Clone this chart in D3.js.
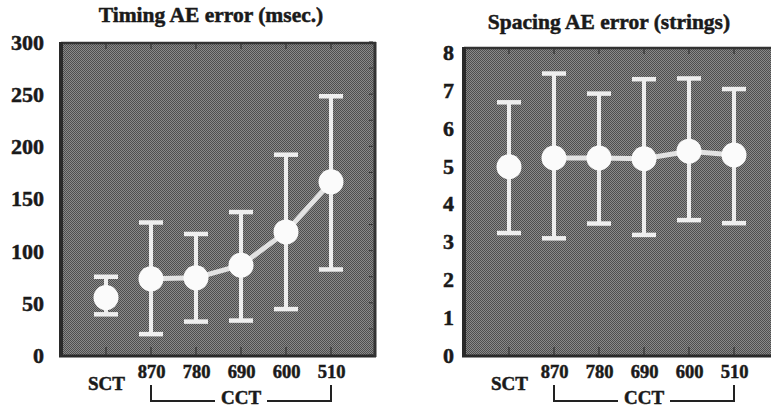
<!DOCTYPE html>
<html>
<head>
<meta charset="utf-8">
<script src="https://cdn.jsdelivr.net/npm/d3@7"></script>
<style>
    body { margin: 0; background: #fff; }
    svg text { font-family: "Liberation Serif", "Times New Roman", serif; font-weight: bold; fill: #1a1a1a; stroke: #1a1a1a; stroke-width: 0.5px; }
</style>
</head>
<body>
<svg id="chart"></svg>
<script>
// categories along the x axis (SCT, then CCT tempos)
const categories = ['SCT', '870', '780', '690', '600', '510'];

// Timing AE error (msec.)
const timingMean = [55, 73, 74, 86, 118, 166];
const timingLow = [39, 20, 32, 33, 44, 82];
const timingHigh = [75, 127, 116, 137, 192, 248];
const timingTicks = [0, 50, 100, 150, 200, 250, 300];

// Spacing AE error (strings)
const spacingMean = [4.97, 5.2, 5.2, 5.18, 5.38, 5.28];
const spacingLow = [3.22, 3.08, 3.47, 3.17, 3.56, 3.48];
const spacingHigh = [6.67, 7.43, 6.9, 7.28, 7.3, 7.02];
const spacingTicks = [0, 1, 2, 3, 4, 5, 6, 7, 8];

const serif = '"Liberation Serif", "Times New Roman", serif';
const svg = d3.select('#chart').attr('width', 771).attr('height', 407);

// checkerboard halftone like the printed figure
const defs = svg.append('defs');
const pat = defs.append('pattern').attr('id', 'halftone')
    .attr('width', 2).attr('height', 2).attr('patternUnits', 'userSpaceOnUse');
pat.append('rect').attr('width', 2).attr('height', 2).attr('fill', '#8a8a8a');
pat.append('rect').attr('width', 1).attr('height', 1).attr('fill', '#4e4e4e');
pat.append('rect').attr('x', 1).attr('y', 1).attr('width', 1).attr('height', 1).attr('fill', '#4e4e4e');

class ErrorBarChart {
    constructor(config, mean, low, high, ticks) {
        this.config = config;
        this.mean = mean;
        this.low = low;
        this.high = high;
        this.ticks = ticks;
        this.render();
    }
    render() {
        const c = this.config;
        const g = svg.append('g');
        const xScale = d3.scaleLinear().domain([0, 7]).range([c.left, c.left + 315]);
        const yScale = d3.scaleLinear().domain([0, c.yMax]).range([c.bottom, c.top]);
        const xPos = (d, i) => xScale(i + 1);
        const barColor = '#eeeeee';

        // plot frame
        const right = Math.min(c.left + 315, 771);
        g.append('rect')
            .attr('x', c.left).attr('y', yScale(c.yMax))
            .attr('width', right - c.left).attr('height', c.bottom - yScale(c.yMax))
            .attr('fill', 'url(#halftone)');
        g.append('line').attr('x1', c.left).attr('x2', right).attr('y1', c.top + 1).attr('y2', c.top + 1)
            .attr('stroke', '#333').attr('stroke-width', 2.5);
        g.append('line').attr('x1', c.left - 2).attr('x2', right).attr('y1', c.bottom + 1).attr('y2', c.bottom + 1)
            .attr('stroke', '#2a2a2a').attr('stroke-width', 3);
        g.append('line').attr('x1', c.left).attr('x2', c.left).attr('y1', c.top).attr('y2', c.bottom + 2)
            .attr('stroke', '#2a2a2a').attr('stroke-width', 4);
        if (c.left + 315 <= 771) {
            g.append('line').attr('x1', c.left + 314).attr('x2', c.left + 314).attr('y1', c.top).attr('y2', c.bottom + 2)
                .attr('stroke', '#333').attr('stroke-width', 3);
            // minor ticks on the right side
            g.selectAll('.rtick').data(d3.range(0, c.yMax + 1e-9, c.minor)).enter().append('line')
                .attr('x1', c.left + 312).attr('x2', c.left + 308)
                .attr('y1', d => yScale(d)).attr('y2', d => yScale(d))
                .attr('stroke', '#333').attr('stroke-width', 1);
        }
        // top and bottom ticks at each category
        g.selectAll('.ttick').data(categories).enter().append('line')
            .attr('x1', xPos).attr('x2', xPos)
            .attr('y1', c.top + 2).attr('y2', c.top + 7)
            .attr('stroke', '#333').attr('stroke-width', 1.2);
        g.selectAll('.btick').data(categories).enter().append('line')
            .attr('x1', xPos).attr('x2', xPos)
            .attr('y1', c.bottom).attr('y2', c.bottom - 8)
            .attr('stroke', '#333').attr('stroke-width', 1.2);

        // y axis labels
        const yAxis = d3.axisLeft(yScale).tickValues(this.ticks).tickSize(0).tickPadding(0);
        const yAxisG = g.append('g').attr('transform', `translate(${c.labelRight},0)`).call(yAxis)
            .attr('font-family', serif).attr('font-size', null);
        yAxisG.select('.domain').remove();
        yAxisG.selectAll('text').style('font-family', serif).style('font-size', '22px').attr('dy', '0.34em');

        // x axis labels (SCT sits lower than the CCT tempos)
        const xAxis = d3.axisBottom(xScale).tickValues(d3.range(1, 7))
            .tickFormat(d => categories[d - 1]).tickSize(0).tickPadding(0);
        const xAxisG = g.append('g').attr('transform', `translate(0,${c.bottom})`).call(xAxis)
            .attr('font-family', serif).attr('font-size', null);
        xAxisG.select('.domain').remove();
        xAxisG.selectAll('text').attr('dy', 0).style('font-family', serif)
            .attr('y', d => d === 1 ? 35 : 23)
            .style('font-size', d => d === 1 ? '19px' : '18.5px');

        // CCT bracket
        const bx1 = xScale(2), bx2 = xScale(6), bmid = (bx1 + bx2) / 2;
        g.append('path')
            .attr('d', `M${bx1},${c.bottom + 30}V${c.bottom + 46}H${bmid - 26}M${bmid + 26},${c.bottom + 46}H${bx2}V${c.bottom + 30}`)
            .attr('fill', 'none').attr('stroke', '#222').attr('stroke-width', 2);
        g.append('text').attr('x', bmid).attr('y', c.bottom + 49)
            .attr('text-anchor', 'middle').style('font-size', '19px').text('CCT');

        // title
        g.append('text').attr('x', c.titleX).attr('y', c.titleY)
            .attr('text-anchor', 'middle').style('font-size', '21.5px').text(c.title);

        // connecting line over the CCT conditions
        const line = d3.line().x(d => xScale(d.i + 1)).y(d => yScale(d.v));
        const pts = this.mean.map((v, i) => ({ v, i })).slice(1);
        g.append('path').attr('d', line(pts))
            .attr('fill', 'none').attr('stroke', '#e2e2e2').attr('stroke-width', 5);

        // error bars
        const bars = g.selectAll('.err').data(this.mean).enter().append('g');
        bars.append('line')
            .attr('x1', xPos).attr('x2', xPos)
            .attr('y1', (d, i) => yScale(this.low[i])).attr('y2', (d, i) => yScale(this.high[i]))
            .attr('stroke', barColor).attr('stroke-width', 4);
        bars.append('line')
            .attr('x1', (d, i) => xPos(d, i) - 12).attr('x2', (d, i) => xPos(d, i) + 12)
            .attr('y1', (d, i) => yScale(this.high[i])).attr('y2', (d, i) => yScale(this.high[i]))
            .attr('stroke', barColor).attr('stroke-width', 4.5);
        bars.append('line')
            .attr('x1', (d, i) => xPos(d, i) - 12).attr('x2', (d, i) => xPos(d, i) + 12)
            .attr('y1', (d, i) => yScale(this.low[i])).attr('y2', (d, i) => yScale(this.low[i]))
            .attr('stroke', barColor).attr('stroke-width', 4.5);

        // means
        g.selectAll('.dot').data(this.mean).enter().append('circle')
            .attr('cx', xPos).attr('cy', d => yScale(d)).attr('r', 12.5)
            .attr('fill', '#fbfbfb');
    }
}

new ErrorBarChart({
    left: 61, top: 42, bottom: 355, yMax: 300, minor: 25, labelRight: 44,
    title: 'Timing AE error (msec.)', titleX: 211, titleY: 22
}, timingMean, timingLow, timingHigh, timingTicks);

new ErrorBarChart({
    left: 464, top: 47, bottom: 355, yMax: 8.13, minor: 0.5, labelRight: 454,
    title: 'Spacing AE error (strings)', titleX: 609, titleY: 29
}, spacingMean, spacingLow, spacingHigh, spacingTicks);
</script>
</body>
</html>
